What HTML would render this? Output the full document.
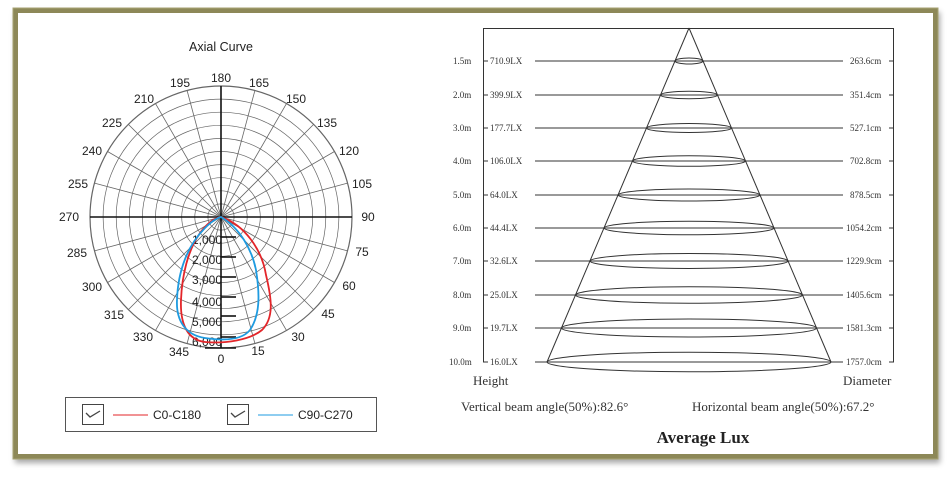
<!DOCTYPE html>
<html><head><meta charset="utf-8"><style>
body{margin:0;width:950px;height:477px;background:#fff;overflow:hidden}
svg{display:block}
.s{font-family:"Liberation Serif",serif;font-size:9px;fill:#333}
.a{font-family:"Liberation Sans",sans-serif;font-size:12px;fill:#222}
</style></head><body>
<svg width="950" height="477" viewBox="0 0 950 477">
<defs><filter id="sh" x="-5%" y="-5%" width="110%" height="115%"><feDropShadow dx="2" dy="4" stdDeviation="3" flood-color="#000" flood-opacity="0.35"/></filter></defs>
<rect x="15.5" y="10.5" width="920" height="446" fill="#fff" stroke="#8d8858" stroke-width="5" filter="url(#sh)"/>
<rect x="13" y="8" width="925" height="451" fill="none" stroke="#a8a374" stroke-width="1"/>
<g id="polar" stroke="#666" stroke-width="0.8" fill="none"></g>
<g stroke="#111" stroke-width="1.6">
<line x1="90" y1="217" x2="352" y2="217"/><line x1="221" y1="86" x2="221" y2="348"/>
<line x1="221" y1="237" x2="236" y2="237"/><line x1="221" y1="257" x2="236" y2="257"/><line x1="221" y1="277" x2="236" y2="277"/><line x1="221" y1="297" x2="236" y2="297"/><line x1="221" y1="316" x2="236" y2="316"/><line x1="221" y1="337" x2="236" y2="337"/><line x1="205" y1="348" x2="236" y2="348"/>
</g>
<g class="a" font-size="11" text-anchor="middle">
<text x="221" y="51" font-size="12.5">Axial Curve</text>
<text x="221" y="82">180</text><text x="259" y="87">165</text><text x="296" y="103">150</text><text x="327" y="127">135</text><text x="349" y="155">120</text><text x="362" y="188">105</text><text x="368" y="221">90</text>
<text x="362" y="256">75</text><text x="349" y="290">60</text><text x="328" y="318">45</text><text x="298" y="341">30</text><text x="258" y="355">15</text><text x="221" y="363">0</text>
<text x="180" y="87">195</text><text x="144" y="103">210</text><text x="112" y="127">225</text><text x="92" y="155">240</text><text x="78" y="188">255</text><text x="69" y="221">270</text>
<text x="77" y="257">285</text><text x="92" y="291">300</text><text x="114" y="319">315</text><text x="143" y="341">330</text><text x="179" y="356">345</text>
</g>
<g class="a" font-size="10" fill="#555" text-anchor="middle">
<text x="207" y="244">1,000</text><text x="207" y="264">2,000</text><text x="207" y="284">3,000</text><text x="207" y="306">4,000</text><text x="207" y="326">5,000</text><text x="207" y="346">6,000</text>
</g>
<path d="M221,217 C245,225 262,250 266,275 C272,300 274,318 262,330 C250,340 225,344 205,342 C188,340 180,325 181,300 C182,275 188,250 200,233 C208,222 215,218 221,217Z" fill="none" stroke="#e3262a" stroke-width="1.8"/>
<path d="M221,217 C240,228 252,250 256,270 C260,295 260,315 250,330 C242,340 225,341 205,338 C185,335 176,320 177,300 C178,270 188,245 205,228 C212,221 217,218 221,217Z" fill="none" stroke="#1e9be0" stroke-width="1.8"/>
<rect x="65.5" y="397.5" width="311" height="34" fill="none" stroke="#555"/>
<rect x="82.5" y="404.5" width="21" height="20" fill="none" stroke="#444"/><path d="M86,413 l4,4 l10,-6" fill="none" stroke="#444" stroke-width="1.3"/>
<rect x="227.5" y="404.5" width="21" height="20" fill="none" stroke="#444"/><path d="M231,413 l4,4 l10,-6" fill="none" stroke="#444" stroke-width="1.3"/>
<line x1="113" y1="415" x2="148" y2="415" stroke="#e3262a"/><text x="153" y="419" class="a" fill="#e3262a">C0-C180</text>
<line x1="258" y1="415" x2="293" y2="415" stroke="#1e9be0"/><text x="298" y="419" class="a" fill="#1e9be0">C90-C270</text>
<g id="cone" stroke="#333" stroke-width="1" fill="none">
<line x1="483.5" y1="28" x2="483.5" y2="362"/><line x1="893.5" y1="28" x2="893.5" y2="362"/>
<line x1="483" y1="28.5" x2="894" y2="28.5"/>
<line x1="689" y1="28" x2="547" y2="362"/><line x1="689" y1="28" x2="831" y2="362"/>
</g>
<g class="s" text-anchor="start">
<text x="453" y="64">1.5m</text><text x="490" y="64">710.9LX</text><text x="850" y="64">263.6cm</text>
<text x="453" y="98">2.0m</text><text x="490" y="98">399.9LX</text><text x="850" y="98">351.4cm</text>
<text x="453" y="131">3.0m</text><text x="490" y="131">177.7LX</text><text x="850" y="131">527.1cm</text>
<text x="453" y="164">4.0m</text><text x="490" y="164">106.0LX</text><text x="850" y="164">702.8cm</text>
<text x="453" y="198">5.0m</text><text x="490" y="198">64.0LX</text><text x="850" y="198">878.5cm</text>
<text x="453" y="231">6.0m</text><text x="490" y="231">44.4LX</text><text x="846" y="231">1054.2cm</text>
<text x="453" y="264">7.0m</text><text x="490" y="264">32.6LX</text><text x="846" y="264">1229.9cm</text>
<text x="453" y="298">8.0m</text><text x="490" y="298">25.0LX</text><text x="846" y="298">1405.6cm</text>
<text x="453" y="331">9.0m</text><text x="490" y="331">19.7LX</text><text x="846" y="331">1581.3cm</text>
<text x="449" y="365">10.0m</text><text x="490" y="365">16.0LX</text><text x="846" y="365">1757.0cm</text>
</g>
<g font-family="Liberation Serif,serif" fill="#333">
<text x="473" y="385" font-size="13">Height</text><text x="843" y="385" font-size="13">Diameter</text>
<text x="461" y="411" font-size="13">Vertical beam angle(50%):82.6°</text>
<text x="692" y="411" font-size="13">Horizontal beam angle(50%):67.2°</text>
<text x="703" y="443" font-size="17" font-weight="bold" fill="#222" text-anchor="middle">Average Lux</text>
</g>
</svg>
<script>
var ns="http://www.w3.org/2000/svg",p=document.getElementById("polar");
function el(t,a){var e=document.createElementNS(ns,t);for(var k in a)e.setAttribute(k,a[k]);p.appendChild(e);}
for(var i=1;i<=10;i++)el("circle",{cx:221,cy:217,r:i*13.1,"stroke-width":i==10?1.2:0.7});
for(var a=0;a<360;a+=15){var r=a*Math.PI/180;el("line",{x1:221,y1:217,x2:221+131*Math.cos(r),y2:217+131*Math.sin(r)});}
var c=document.getElementById("cone"),ys=[61,95,128,161,195,228,261,295,328,362];
ys.forEach(function(y,i){var l=document.createElementNS(ns,"path");
l.setAttribute("d","M483,"+y+"h5M535,"+y+"H843M889,"+y+"h5");c.appendChild(l);
var hw=(y-28)*142/334,e=document.createElementNS(ns,"ellipse");
e.setAttribute("cx",689);e.setAttribute("cy",y);e.setAttribute("rx",hw);e.setAttribute("ry",3+i*0.75);c.appendChild(e);});
</script>
</body></html>
